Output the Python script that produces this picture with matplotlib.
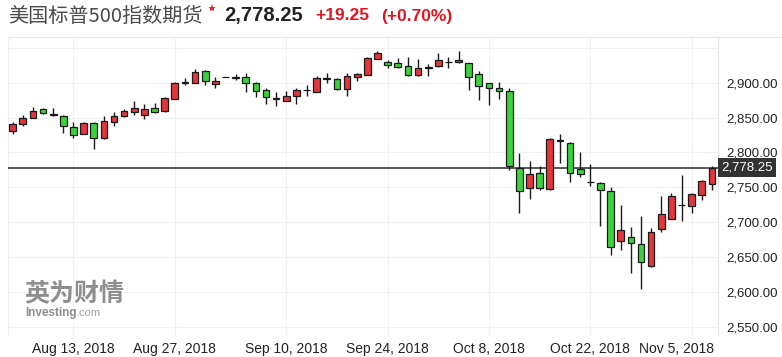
import numpy as np
import matplotlib
matplotlib.use("Agg")
import matplotlib.pyplot as plt
from matplotlib.lines import Line2D
from matplotlib.transforms import ScaledTranslation, blended_transform_factory

plt.rcParams["font.family"] = ["Liberation Sans", "Noto Sans CJK SC", "DejaVu Sans"]

# -----------------------------
# Data (daily candles, S&P 500 futures)
# -----------------------------
opens = [2831, 2841, 2850, 2862, 2855, 2852, 2836, 2827, 2842, 2821,
         2843, 2852, 2858, 2854, 2863, 2859, 2877, 2899, 2900, 2917,
         2898, 2908, 2908, 2908, 2900, 2890, 2878, 2874, 2881, 2889,
         2887, 2906, 2905, 2891, 2908, 2911, 2934, 2929, 2928, 2924,
         2911, 2921, 2924, 2930, 2929, 2928, 2912, 2899, 2893, 2888,
         2777, 2749, 2770, 2748, 2816, 2813, 2776, 2758, 2756, 2745,
         2673, 2678, 2668, 2637, 2690, 2705, 2724, 2723, 2739, 2754]
highs = [2843, 2854, 2865, 2863, 2863, 2853, 2844, 2844, 2844, 2852,
         2858, 2862, 2874, 2869, 2871, 2879, 2901, 2906, 2919, 2918,
         2908, 2908, 2913, 2914, 2901, 2893, 2886, 2888, 2893, 2896,
         2909, 2914, 2906, 2914, 2914, 2937, 2946, 2932, 2935, 2937,
         2934, 2927, 2942, 2937, 2946, 2928, 2917, 2899, 2901, 2892,
         2799, 2787, 2780, 2820, 2826, 2815, 2801, 2783, 2757, 2751,
         2725, 2693, 2708, 2691, 2738, 2742, 2768, 2742, 2761, 2781]
lows = [2827, 2838, 2849, 2855, 2852, 2828, 2821, 2826, 2805, 2819,
        2838, 2851, 2854, 2848, 2857, 2858, 2876, 2897, 2899, 2897,
        2893, 2908, 2904, 2887, 2879, 2870, 2867, 2873, 2870, 2881,
        2886, 2899, 2890, 2881, 2903, 2911, 2934, 2921, 2921, 2910,
        2910, 2910, 2923, 2921, 2928, 2890, 2875, 2868, 2876, 2775,
        2713, 2733, 2746, 2746, 2785, 2758, 2764, 2752, 2694, 2653,
        2660, 2627, 2604, 2636, 2685, 2704, 2701, 2713, 2732, 2746]
closes = [2840, 2850, 2860, 2856, 2854, 2838, 2825, 2842, 2821, 2845,
          2852, 2860, 2863, 2862, 2858, 2878, 2899, 2901, 2916, 2902,
          2903, 2908, 2906, 2899, 2888, 2879, 2876, 2881, 2890, 2890,
          2907, 2905, 2891, 2909, 2912, 2935, 2942, 2925, 2922, 2911,
          2921, 2922, 2932, 2929, 2933, 2908, 2895, 2893, 2888, 2780,
          2745, 2769, 2749, 2819, 2818, 2771, 2769, 2757, 2746, 2664,
          2688, 2670, 2642, 2686, 2711, 2737, 2725, 2740, 2759, 2778.25]

date_ticks = [6, 16, 27, 37, 47, 57, 67]
date_labels = ["Aug 13, 2018", "Aug 27, 2018", "Sep 10, 2018", "Sep 24, 2018",
               "Oct 8, 2018", "Oct 22, 2018", "Nov 5, 2018"]
price_ticks = [2550, 2600, 2650, 2700, 2750, 2800, 2850, 2900]
grid_levels = [2550, 2600, 2650, 2700, 2750, 2800, 2850, 2900, 2950]

title_name = "美国标普500指数期货"
last_price = "2,778.25"
change = "+19.25"
change_pct = "(+0.70%)"

# -----------------------------
# Figure
# -----------------------------
W, H = 782, 357
fig = plt.figure(figsize=(W / 100, H / 100), dpi=100)
fig.patch.set_facecolor("white")


def fx(px):
    return px / W


def fy(py):
    return 1 - py / H


ax = fig.add_axes([fx(8), fy(335), fx(718) - fx(8), fy(38) - fy(335)])

o = np.array(opens, dtype=float)
h = np.array(highs, dtype=float)
l = np.array(lows, dtype=float)
c = np.array(closes, dtype=float)
x = np.arange(len(o))

up = c >= o
colors = np.where(up, "#e2353c", "#3bd33b")
bottoms = np.minimum(o, c)
heights = np.maximum(np.abs(c - o), 0.3)

ax.vlines(x, l, h, color="#1a1a1a", lw=1.0, zorder=2)
ax.bar(x, heights, bottom=bottoms, width=0.66, color=colors,
       edgecolor="#1a1a1a", linewidth=0.9, zorder=3)

# last price line + marker box
ax.axhline(c[-1], color="#3a3a3a", lw=1.2, zorder=1.5)
trans = blended_transform_factory(ax.transAxes, ax.transData)
ax.text(1.004, c[-1], last_price, transform=trans, ha="left", va="center",
        color="white", fontsize=9.5, zorder=6, clip_on=False,
        bbox=dict(boxstyle="square,pad=0.25", fc="#333333", ec="none"))

# grid
for g in grid_levels:
    ax.axhline(g, color="#f1f1f1", lw=0.8, zorder=0)
for t in date_ticks:
    ax.axvline(t, color="#f1f1f1", lw=0.8, zorder=0)
ax.axvline(-0.46, color="#efefef", lw=0.8, zorder=0)

ax.set_xlim(-0.46, 69.6)
ax.set_ylim(2537.9, 2964.1)

ax.yaxis.tick_right()
ax.set_yticks(price_ticks)
ax.set_yticklabels([f"{v:,.2f}" for v in price_ticks])
ax.tick_params(axis="y", length=0, pad=6, labelsize=9.5, labelcolor="#222222")

ax.set_xticks(date_ticks)
ax.set_xticklabels(date_labels)
ax.tick_params(axis="x", length=0, pad=5, labelsize=10, labelcolor="#222222")
last_lab = ax.get_xticklabels()[-1]
last_lab.set_transform(last_lab.get_transform() + ScaledTranslation(-0.15, 0, fig.dpi_scale_trans))

for side in ["top", "left", "bottom"]:
    ax.spines[side].set_visible(False)
ax.spines["right"].set_color("#e3e3e3")
ax.spines["right"].set_linewidth(0.8)

# watermark
fig.text(fx(24), fy(294), "英为财情", family=["Noto Sans CJK SC"], fontweight="bold",
         fontsize=18, color="#8e8e8e", ha="left", va="center", zorder=0.5)
fig.text(fx(25), fy(313), "Investing", fontsize=8.5, fontweight="bold",
         color="#8e8e8e", ha="left", va="center")
fig.text(fx(76), fy(313.5), ".com", fontsize=8, color="#a0a0a0", ha="left", va="center")

# header
fig.text(fx(8), fy(16), title_name, family=["Noto Sans CJK SC", "DejaVu Sans"],
         fontsize=14.5, color="#4a4a4a", ha="left", va="center")
fig.add_artist(Line2D([fx(212)], [fy(8)], transform=fig.transFigure, marker="*",
                      markersize=6, color="#e8262e", markeredgewidth=0))
fig.text(fx(224), fy(16), last_price, fontsize=14.5, fontweight="bold",
         color="#222222", ha="left", va="center")
fig.text(fx(315), fy(16), change, fontsize=12.5, fontweight="bold",
         color="#e3141e", ha="left", va="center")
fig.text(fx(381), fy(16), change_pct, fontsize=12.5, fontweight="bold",
         color="#e3141e", ha="left", va="center")
fig.add_artist(Line2D([fx(8), 1.0], [fy(37), fy(37)], transform=fig.transFigure,
                      color="#e6e6e6", lw=1))

fig.savefig("out.png", dpi=100, facecolor="white")
